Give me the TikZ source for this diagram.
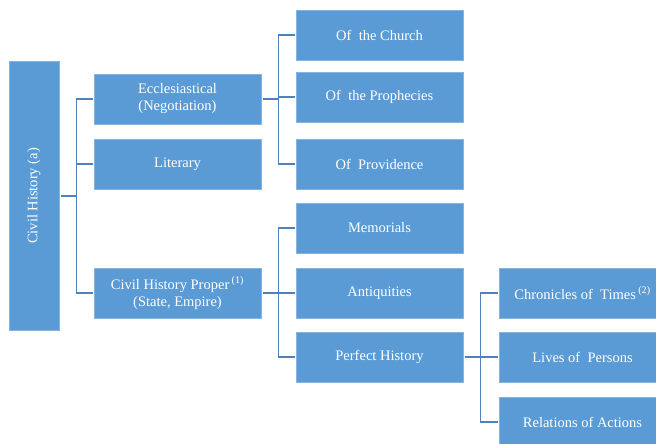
\documentclass[tikz,border=0pt]{standalone}
\usepackage{fontspec}
\setmainfont{Liberation Serif}
\usepackage{tikz}
\definecolor{boxblue}{RGB}{91,155,213}
\definecolor{linkblue}{RGB}{79,129,189}

\begin{document}
\begin{tikzpicture}[x=1pt, y=-1pt,
    box/.style={rectangle, fill=boxblue, draw=boxblue!75!white, line width=0.6pt,
        minimum width=167pt, minimum height=50pt, inner sep=2pt, outer sep=1.5pt,
        text=white, align=center, font=\fontsize{14.5}{17}\selectfont},
    link/.style={draw=linkblue, line width=1.6pt}]
    \useasboundingbox (0, 0) rectangle (656, 444);
    \clip (0, 0) rectangle (656, 444);

    \node[box, rotate=90, minimum width=269pt] (civil) at (34, 196) {Civil History (a)};

    \node[box] (eccl) at (177.5, 99) {Ecclesiastical\\(Negotiation)};
    \node[box] (literary) at (177.5, 164) {Literary};
    \node[box] (proper) at (177.5, 293) {Civil History Proper\,\textsuperscript{(1)}\\(State, Empire)};

    \node[box] (church) at (379.5, 35) {Of~~the Church};
    \node[box] (prophecies) at (379.5, 97) {Of~~the Prophecies};
    \node[box] (providence) at (379.5, 164) {Of~~Providence};
    \node[box] (memorials) at (379.5, 228) {Memorials};
    \node[box] (antiquities) at (379.5, 293) {Antiquities};
    \node[box] (perfect) at (379.5, 357) {Perfect History};

    \node[box] (chronicles) at (582.5, 293) {Chronicles of~~Times\,\textsuperscript{(2)}};
    \node[box] (lives) at (582.5, 357) {Lives of~~Persons};
    \node[box] (relations) at (582.5, 422) {Relations of Actions};

    \coordinate (j1) at ([xshift=16pt]civil.south);
    \draw[link] (civil.south) -- (j1);
    \draw[link] (j1) |- (eccl.west);
    \draw[link] (j1) |- (literary.west);
    \draw[link] (j1) |- (proper.west);

    \coordinate (j2) at ([xshift=16pt]eccl.east);
    \draw[link] (eccl.east) -- (j2);
    \draw[link] (j2) |- (church.west);
    \draw[link] (j2) |- (prophecies.west);
    \draw[link] (j2) |- (providence.west);

    \coordinate (j3) at ([xshift=16pt]proper.east);
    \draw[link] (proper.east) -- (j3);
    \draw[link] (j3) |- (memorials.west);
    \draw[link] (j3) |- (antiquities.west);
    \draw[link] (j3) |- (perfect.west);

    \coordinate (j4) at ([xshift=16pt]perfect.east);
    \draw[link] (perfect.east) -- (j4);
    \draw[link] (j4) |- (chronicles.west);
    \draw[link] (j4) |- (lives.west);
    \draw[link] (j4) |- (relations.west);
\end{tikzpicture}
\end{document}
